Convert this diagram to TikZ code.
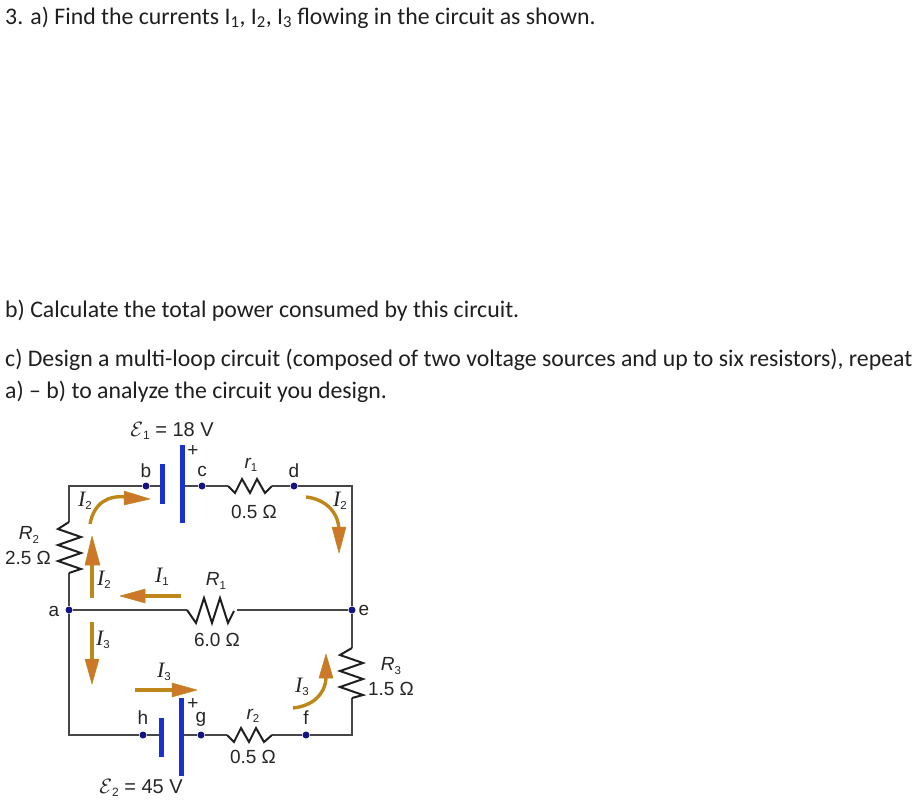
\documentclass[tikz,border=0pt]{standalone}
\usepackage{fontspec}
\setmainfont{Carlito}
\newfontfamily\lab{Liberation Sans}
\newfontfamily\labserif{Liberation Serif}
\newcommand{\sym}[2]{{\lab\fontsize{19}{21}\selectfont\itshape #1\raisebox{-3.5pt}{\fontsize{11.5}{13}\selectfont\upshape #2}}}
\newcommand{\cursym}[1]{{\labserif\fontsize{22}{24}\selectfont\itshape I\raisebox{-3.5pt}{\lab\fontsize{11.5}{13}\selectfont\upshape #1}}}
\newcommand{\emfeq}[2]{{\lab\fontsize{20}{22}\selectfont$\mathcal{E}$\raisebox{-3.5pt}{\fontsize{12}{13}\selectfont #1} = #2 V}}
\definecolor{wirec}{RGB}{70,70,70}
\definecolor{dotc}{RGB}{20,20,130}
\definecolor{platec}{RGB}{25,50,205}
\definecolor{shaftc}{RGB}{190,135,25}
\definecolor{headc}{RGB}{205,120,40}
\tikzset{x=1pt,y=-1pt,
 para/.style={font=\fontsize{23.8}{27}\selectfont,anchor=base west,inner sep=0,text=black!88},
 lbl/.style={font=\lab\fontsize{19}{21}\selectfont,inner sep=0,text=black!85},
 wire/.style={draw=wirec,line width=1.5pt},
 res/.style={draw=black!88,line width=2pt,line join=miter},
 junction/.style={circle,fill=dotc,inner sep=0,minimum size=7pt},
 plate/.style={draw=platec,line width=5pt},
 cur/.style={draw=shaftc,line width=3.4pt},
 curhead/.style={fill=headc,draw=shaftc,line width=.5pt,line join=round}}
\begin{document}
\begin{tikzpicture}
\useasboundingbox (0,0) rectangle (922,804);
% text
\node[para] (t1) at (5,24) {3. a) Find the currents I\textsubscript{1}, I\textsubscript{2}, I\textsubscript{3} flowing in the circuit as shown.};
\node[para] (t2) at (5,317) {b) Calculate the total power consumed by this circuit.};
\node[para] (t3) at (5,366) {c) Design a multi-loop circuit (composed of two voltage sources and up to six resistors), repeat};
\node[para] (t4) at (5,398) {a) -- b) to analyze the circuit you design.};
% corners and ends
\coordinate (tl) at (69,486); \coordinate (tr) at (352,486);
\coordinate (bl) at (69,735); \coordinate (br) at (352,735);
\coordinate (R2t) at (69,522); \coordinate (R2b) at (69,573);
\coordinate (R3t) at (352,648); \coordinate (R3b) at (352,698);
\coordinate (R1l) at (187,610); \coordinate (R1r) at (237,610);
\coordinate (r1l) at (228,486); \coordinate (r1r) at (272,486);
\coordinate (r2l) at (227,735); \coordinate (r2r) at (272,735);
\coordinate (p1s) at (162,486); \coordinate (p1l) at (182,486);
\coordinate (p2s) at (161,735); \coordinate (p2l) at (181,735);
% junctions
\node[junction] (a) at (69,610) {};
\node[junction] (b) at (146,486) {};
\node[junction] (c) at (202,486) {};
\node[junction] (d) at (294,486) {};
\node[junction] (e) at (352,610) {};
\node[junction] (f) at (306,735) {};
\node[junction] (g) at (201,735) {};
\node[junction] (h) at (143,735) {};
% wires
\draw[wire] (p1s) -- (b) -- (tl) -- (R2t);
\draw[wire] (R2b) -- (a) -- (bl) -- (h) -- (p2s);
\draw[wire] (p1l) -- (c) -- (r1l);
\draw[wire] (r1r) -- (d) -- (tr) -- (e) -- (R3t);
\draw[wire] (R3b) -- (br) -- (f) -- (r2r);
\draw[wire] (r2l) -- (g) -- (p2l);
\draw[wire] (a) -- (R1l);
\draw[wire] (R1r) -- (e);
% resistors
\draw[res] (R2t) -- ++(-11,7) -- ++(23,8) -- ++(-23,8) -- ++(23,8) -- ++(-23,8) -- ++(23,8) -- (R2b);
\draw[res] (R3t) -- ++(-12,7) -- ++(23,8) -- ++(-23,8) -- ++(23,8) -- ++(-23,8) -- ++(23,8) -- (R3b);
\draw[res] (R1l) -- ++(9,13) -- ++(8,-25) -- ++(8,25) -- ++(8,-25) -- ++(8,25) -- ++(6,-12);
\draw[res] (r1l) -- ++(7,7) -- ++(7,-14) -- ++(8,14) -- ++(7,-14) -- ++(8,14) -- ++(7,-7);
\draw[res] (r2l) -- ++(7,7) -- ++(7,-14) -- ++(8,14) -- ++(7,-14) -- ++(8,14) -- ++(8,-7);
% batteries
\draw[plate] (162,464) -- (p1s) -- (162,504);
\draw[plate] (182,445) -- (p1l) -- (182,523);
\draw[plate] (161,718) -- (p2s) -- (161,757);
\draw[plate] (181,698) -- (p2l) -- (181,776);
% current arrows
\draw[cur] (90,524) .. controls (94,503) and (108,495) .. (126,497);
\fill[curhead] (150,499) -- (124,491) -- (124,505) -- cycle;
\draw[cur] (92,598) -- (92,564);
\fill[curhead] (92,536) -- (85,565) -- (100,565) -- cycle;
\draw[cur] (181,596) -- (140,596);
\fill[curhead] (120,596) -- (145,589) -- (145,603) -- cycle;
\draw[cur] (92,622) -- (92,662);
\fill[curhead] (92,684) -- (85,659) -- (99,659) -- cycle;
\draw[cur] (135,690) -- (175,690);
\fill[curhead] (197,690) -- (172,683) -- (172,697) -- cycle;
\draw[cur] (306,497) .. controls (325,499) and (339,512) .. (339,531);
\fill[curhead] (339,553) -- (332,527) -- (346,527) -- cycle;
\draw[cur] (293,708) .. controls (312,706) and (325,695) .. (326,678);
\fill[curhead] (326,654) -- (319,678) -- (333,678) -- cycle;
% plain labels
\node[lbl] (lb) at (146,471) {b};
\node[lbl] (lc) at (202,471) {c};
\node[lbl] (ld) at (294,471) {d};
\node[lbl] (la) at (54,611) {a};
\node[lbl] (le) at (364,610) {e};
\node[lbl] (lf) at (306,718) {f};
\node[lbl] (lg) at (201,719) {g};
\node[lbl] (lh) at (143,718) {h};
\node[lbl] (pl1) at (193,451) {+};
\node[lbl] (pl2) at (193,704) {+};
\node[lbl] (E1) at (172,431) {\emfeq{1}{18}};
\node[lbl] (E2) at (141,788) {\emfeq{2}{45}};
\node[lbl] (v1) at (254,512) {0.5 Ω};
\node[lbl] (v2) at (253,757) {0.5 Ω};
\node[lbl] (v3) at (217,640) {6.0 Ω};
\node[lbl] (v4) at (28,558) {2.5 Ω};
\node[lbl] (v5) at (391,689) {1.5 Ω};
\node[lbl] (nR1) at (216,581) {\sym{R}{1}};
\node[lbl] (nR2) at (29,535) {\sym{R}{2}};
\node[lbl] (nR3) at (391,666) {\sym{R}{3}};
\node[lbl] (nr1) at (251,465) {\sym{r}{1}};
\node[lbl] (nr2) at (253,716) {\sym{r}{2}};
\node[lbl] (i1) at (162,577) {\cursym{1}};
\node[lbl] (i2a) at (85,501) {\cursym{2}};
\node[lbl] (i2b) at (104,580) {\cursym{2}};
\node[lbl] (i2c) at (340,501) {\cursym{2}};
\node[lbl] (i3a) at (103,640) {\cursym{3}};
\node[lbl] (i3b) at (164,672) {\cursym{3}};
\node[lbl] (i3c) at (302,687) {\cursym{3}};
\end{tikzpicture}
\end{document}
